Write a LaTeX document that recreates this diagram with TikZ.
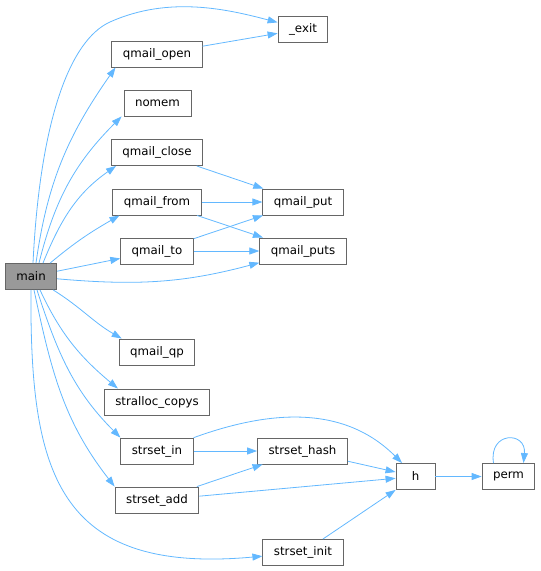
\documentclass[tikz,border=0pt]{standalone}
\usepackage{fontspec}
\setmainfont{DejaVu Sans}
\usepackage{tikz}
\usetikzlibrary{arrows.meta, positioning}

\definecolor{edgeblue}{RGB}{99,184,255}
\definecolor{boxgray}{RGB}{102,102,102}
\definecolor{maingray}{RGB}{153,153,153}

\begin{document}
\begin{tikzpicture}[x=1pt, y=1pt,
        func/.style={rectangle, draw=boxgray, fill=white, line width=0.9pt, minimum height=26pt, inner xsep=11pt, inner ysep=0pt, font=\fontsize{11.8}{14}\selectfont},
        root/.style={func, fill=maingray},
        call/.style={-{Triangle[length=10pt, width=7pt]}, edgeblue, line width=0.8pt}
    ]
        \useasboundingbox (0,0) rectangle (541,-571);

        % Caller
        \node[root] (main) at (31, -276.5) {main};

        % Direct callees
        \node[func] (exitfn) at (303, -29) {\_exit};
        \node[func] (qopen) at (157, -54) {qmail\_open};
        \node[func] (nomem) at (157.5, -103) {nomem};
        \node[func] (qclose) at (157, -152.5) {qmail\_close};
        \node[func] (qfrom) at (157, -202) {qmail\_from};
        \node[func] (qto) at (157, -251) {qmail\_to};
        \node[func] (qqp) at (157, -352) {qmail\_qp};
        \node[func] (copys) at (157, -402) {stralloc\_copys};
        \node[func] (setin) at (157, -451) {strset\_in};
        \node[func] (setadd) at (157, -500) {strset\_add};

        % Second level
        \node[func] (qput) at (303, -202) {qmail\_put};
        \node[func] (qputs) at (303, -251) {qmail\_puts};
        \node[func] (sethash) at (302.5, -451) {strset\_hash};
        \node[func] (setinit) at (303, -552.5) {strset\_init};
        \node[func, minimum width=39pt] (h) at (415.5, -476.5) {h};
        \node[func] (perm) at (508.5, -476.5) {perm};

        % Calls from main
        \draw[call] ([xshift=2pt]main.north) .. controls (40,-120) and (70,-40) .. (110,-22) .. controls (170,5) and (230,-10) .. (exitfn);
        \draw[call] ([xshift=5pt]main.north) to[out=82, in=235] ([xshift=4pt]qopen.south west);
        \draw[call] ([xshift=8pt]main.north) to[out=76, in=225] ([xshift=-2pt]nomem.south west);
        \draw[call] ([xshift=12pt]main.north) to[out=68, in=215] ([xshift=5pt]qclose.south west);
        \draw[call] ([xshift=-7pt]main.north east) to[out=40, in=210] ([xshift=7pt]qfrom.south west);
        \draw[call] (main) -- (qto);
        \draw[call] (main) to[out=-5, in=195] (qputs);
        \draw[call] ([xshift=-4pt]main.south east) to[out=-32, in=150] ([xshift=3pt]qqp.north west);
        \draw[call] ([xshift=9pt]main.south) to[out=-65, in=140] ([xshift=14pt]copys.north west);
        \draw[call] ([xshift=6pt]main.south) to[out=-72, in=135] (setin.north west);
        \draw[call] ([xshift=3pt]main.south) to[out=-78, in=128] (setadd.north west);
        \draw[call] (main) .. controls (30,-470) and (55,-575) .. (setinit);

        % Calls between callees
        \draw[call] (qopen) -- (exitfn);
        \draw[call] (qclose) -- (qput);
        \draw[call] (qfrom) -- (qput);
        \draw[call] (qfrom) -- (qputs);
        \draw[call] (qto) -- (qput);
        \draw[call] (qto) -- (qputs);
        \draw[call] (setin) to[out=20, in=135] (h);
        \draw[call] (setin) -- (sethash);
        \draw[call] (setadd) -- (sethash);
        \draw[call] (setadd) -- (h);
        \draw[call] (sethash) -- (h);
        \draw[call] (setinit) -- (h);
        \draw[call] (h) -- (perm);
        \draw[call] ([xshift=-15pt]perm.north) .. controls ([xshift=-20pt, yshift=32pt]perm.north) and ([xshift=18pt, yshift=32pt]perm.north) .. ([xshift=15pt]perm.north);

    \end{tikzpicture}
\end{document}
